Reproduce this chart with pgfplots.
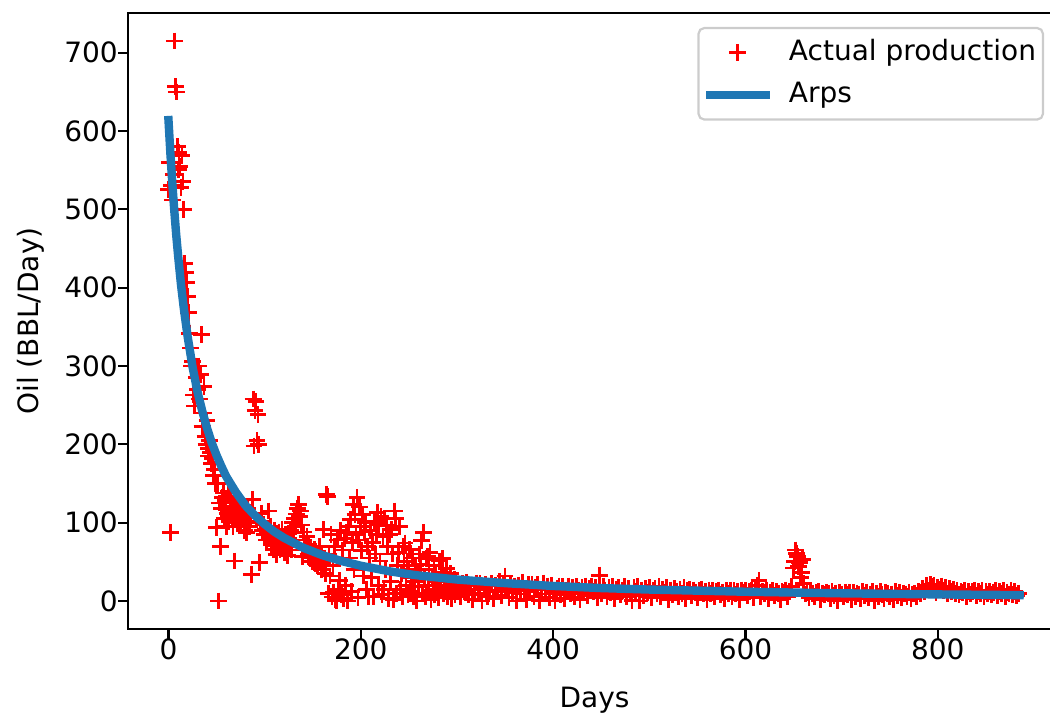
\documentclass[border=0pt]{standalone}
\usepackage{pgfplots}
\pgfplotsset{compat=1.18}
\usepackage{fontspec}
\setmainfont{DejaVu Sans}
\definecolor{tabblue}{HTML}{1F77B4}
\pgfplotsset{
  legmark/.style={legend image code/.code={\draw[mark repeat=2,mark phase=2,##1] plot coordinates {(0pt,0pt)(14pt,0pt)(28pt,0pt)};}},
  legline/.style={legend image code/.code={\draw[##1] (0pt,0pt) -- (28pt,0pt);}},
}
\begin{document}
\begin{tikzpicture}
\useasboundingbox (-64pt,-43pt) rectangle (461pt,314.5pt);
\begin{axis}[
  scale only axis, width=466.5pt, height=308pt,
  xmin=-42.1, xmax=928.1, ymin=-35.75, ymax=750.75,
  xtick={0,200,...,800}, ytick={0,100,...,700},
  tick pos=left,
  tick align=outside, major tick length=4.9pt,
  every tick/.style={black, line width=1.1pt},
  axis line style={line width=1.1pt, black},
  clip marker paths=true,
  /pgf/number format/assume math mode=true,
  tick label style={font=\fontsize{14}{16.8}\selectfont, inner sep=0pt},
  label style={font=\fontsize{14}{16.8}\selectfont},
  xlabel={Days}, ylabel={Oil (BBL/Day)},
  xlabel style={at={([yshift=-35.5pt]axis description cs:0.5,0)}, anchor=center},
  ylabel style={at={([xshift=-48.5pt]axis description cs:0,0.5)}, anchor=center},
  legend cell align=left,
  legend style={at={(axis description cs:0.9818,0.9773)}, anchor=north east,
    draw=black!20, line width=1.1pt, rounded corners=2.8pt, fill=white,
    fill opacity=0.8, draw opacity=1, text opacity=1,
    font=\fontsize{14}{16.8}\selectfont,
    inner xsep=3.5pt, inner ysep=5.7pt, row sep=8.1pt, column sep=9.5pt,
    nodes={inner sep=0pt, text height=10.5pt, text depth=2.6pt}},
]
\addplot[only marks, mark=+, mark size=4.2pt, color=red, mark options={line width=1.4pt}, legmark]
coordinates {
(0,525)(1,560)(2,87)(3,530)(4,512)(5,545)(6,715)(7,657)(8,650)(9,580)(10,551)(11,573)(12,555)(13,528)(14,569)(15,536)(16,500)(17,431)(18,419)(19,407)(20,389)(21,368)(22,342)(23,323)(24,300)(25,306)(26,263)(27,249)(28,300)(29,285)(30,270)(31,300)(32,258)(33,289)(34,340)(35,223)(36,240)(37,274)(38,210)(39,200)(40,230)(41,195)(42,185)(43,205)(44,190)(45,176)(46,182)(47,160)(48,168)(49,150)
(50,94)(51,150)(52,0)(53,125)(54,70)(55,118)(56,132)(57,138)(58,105)(59,128)(60,95)(61,112)(62,140)(63,102)(64,120)(65,130)(66,108)(67,95)(68,125)(69,51)(70,112)(71,118)(72,100)(73,128)(74,110)(75,96)(76,115)(77,122)(78,104)(79,90)(80,112)(81,87)(82,118)(83,100)(84,95)(85,108)(86,34)(87,130)(88,258)(89,198)(90,243)(91,255)(92,205)(93,238)(94,200)(95,49)(96,102)(97,112)(98,90)(99,98)(100,85)
(101,92)(102,78)(103,88)(104,115)(105,80)(106,95)(107,72)(108,85)(109,66)(110,90)(111,75)(112,59)(113,82)(114,70)(115,88)(116,65)(117,78)(118,92)(119,68)(120,75)(121,62)(122,85)(123,70)(124,58)(125,80)(126,72)(127,90)(128,65)(129,100)(130,87)(131,105)(132,95)(133,111)(134,118)(135,123)(136,108)(137,115)(138,97)(139,57)(140,88)(141,78)(142,70)(143,65)(144,82)(145,60)(146,72)(147,55)(148,68)(149,62)(150,50)(151,58)(152,66)(153,48)(154,55)(155,45)(156,60)(157,70)(158,52)(159,40)(160,48)(161,91)(162,55)(163,35)(164,136)(165,133)
(166,10)(167,60)(168,32)(169,85)(170,5)(171,45)(172,11)(173,70)(174,2)(175,0)(176,78)(177,15)(178,26)(179,90)(180,8)(181,65)(182,3)(183,80)(184,20)(185,87)(186,0)(187,95)(188,55)(189,104)(190,12)(191,75)(192,123)(193,40)(194,110)(195,85)(196,132)(197,4)(198,78)(199,120)(200,95)(201,64)(202,110)(203,32)(204,88)(205,100)(206,15)(207,70)(208,5)(209,55)(210,90)(211,30)(212,75)(213,6)(214,102)(215,60)(216,85)(217,113)(218,20)(219,98)(220,51)(221,108)(222,8)(223,82)(224,15)(225,105)(226,40)(227,96)(228,70)(229,3)(230,85)(231,25)(232,91)(233,60)(234,2)(235,115)(236,105)(237,10)(238,45)(239,62)(240,95)(241,15)(242,35)(243,5)(244,70)(245,50)(246,74)(247,20)(248,51)(249,8)(250,40)(251,66)(252,12)(253,30)(254,55)(255,6)(256,25)(257,45)(258,0)(259,35)(260,18)(261,60)(262,47)(263,77)(264,10)(265,87)(266,30)(267,5)(268,54)(269,57)(270,20)(271,40)(272,62)(273,2)(274,28)(275,15)(276,45)(277,8)(278,33)(279,15)(280,25)(281,4)(282,51)(283,20)(284,36)(285,54)(286,10)(287,30)(288,18)(289,41)(290,6)(291,25)(292,12)(293,35)(294,3)(295,20)(296,15)(297,28)(298,8)(299,22)(300,12)
(302,18)(304,5)(306,22)(308,12)(310,24)(312,8)(314,20)(316,2)(318,15)(320,23)(322,10)(324,22)(326,0)(328,18)(330,21)(332,6)(334,14)(336,22)(338,3)(340,20)
(342,12)(344,25)(346,7)(348,22)(350,32)(352,16)(354,4)(356,22)(358,11)(360,19)(362,0)(364,20)(366,9)(368,24)(370,15)(372,2)(374,21)(376,13)(378,21)(380,6)
(382,17)(384,21)(386,1)(388,14)(390,23)(392,9)(394,19)(396,4)(398,20)(400,12)(402,0)(404,16)(406,19)(408,8)(410,18)(412,3)(414,13)(416,19)(418,10)(420,17)
(422,5)(424,18)(426,14)(428,2)(430,17)(432,11)(434,19)(436,7)(438,16)(440,18)(442,12)(444,17)(446,4)(448,33)(450,9)(452,19)(454,14)(456,6)(458,17)(460,11)
(462,18)(464,3)(466,15)(468,17)(470,8)(472,13)(474,18)(476,5)(478,16)(480,10)(482,1)(484,17)(486,12)(488,18)(490,0)(492,14)(494,7)(496,16)(498,11)(500,17)
(502,4)(504,13)(506,16)(508,9)(510,18)(512,6)(514,15)(516,11)(518,17)(520,2)(522,14)(524,8)(526,16)(528,12)(530,5)(532,15)(534,10)(536,17)(538,3)(540,13)
(542,15)(544,7)(546,14)(548,11)(550,4)(552,13)(554,15)(556,9)(558,12)(560,2)(562,14)(564,10)(566,13)(568,6)(570,12)(572,14)(574,8)(576,11)(578,3)(580,13)
(582,10)(584,14)(586,5)(588,13)(590,9)(592,12)(594,2)(596,14)(598,11)(600,13)(602,7)(604,12)(606,14)(608,4)(610,13)(612,20)(614,26)(616,6)(618,12)(620,9)
(622,14)(624,3)(626,11)(628,13)(630,7)(632,12)(634,10)(636,2)(638,12)(640,11)(642,14)(644,5)(646,12)(648,18)
(650,42)(651,50)(652,65)(653,61)(654,57)(655,44)(656,49)(657,30)(658,36)(659,53)(660,22)
(662,9)(664,11)(666,4)(668,12)(670,10)(672,6)(674,11)(676,12)(678,2)(680,10)(682,8)(684,11)(686,10)(688,3)(690,12)(692,7)(694,10)(696,1)(698,11)(700,9)
(702,5)(704,11)(706,8)(708,11)(710,2)(712,11)(714,6)(716,10)(718,9)(720,3)(722,12)(724,7)(726,11)(728,4)(730,9)(732,12)(734,1)(736,10)(738,6)(740,12)
(742,8)(744,3)(746,11)(748,10)(750,5)(752,9)(754,2)(756,12)(758,7)(760,11)(762,4)(764,10)(766,9)(768,6)(770,11)(772,3)(774,9)(776,10)(778,5)(780,12)
(782,10)(784,16)(786,12)(788,20)(790,14)(792,21)(794,18)(796,20)(798,11)(800,17)(802,15)(804,19)(806,13)(808,17)(810,9)(812,16)(814,12)(816,15)(818,10)(820,13)
(822,8)(824,12)(826,11)(828,13)(830,6)(832,12)(834,9)(836,12)(838,13)(840,7)(842,12)(844,10)(846,13)(848,5)(850,12)(852,9)(854,12)(856,8)(858,11)(860,13)
(862,7)(864,12)(866,10)(868,13)(870,6)(872,11)(874,9)(876,13)(878,8)(880,12)(882,7)(884,10)
};
\addlegendentry{Actual production}
\addplot[tabblue, line width=4.2pt, line cap=rect, line join=round, no markers, legline]
coordinates {
(0,614)(2,571)(4,533)(6,499)(8,468)(10,441)(13,404)(16,373)(20,337)(25,299)(30,268)(35,243)(40,221)(45,202)(50,186)(55,172)(60,159)(65,149)(70,139)(80,122)(90,109)(100,98)(110,88.5)(120,80.7)(140,68)(160,58.5)(180,51)(200,45)(230,37.9)(250,34.2)(260,32.6)(300,27.4)(350,22.8)(400,19.2)(450,16.5)(500,14.6)(600,11.8)(700,9.8)(800,8.4)(885,7.5)
};
\addlegendentry{Arps}
\end{axis}
\end{tikzpicture}
\end{document}
